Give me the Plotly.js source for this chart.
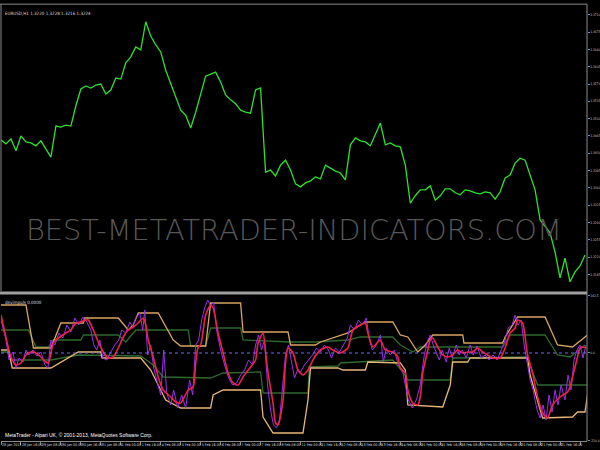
<!DOCTYPE html>
<html><head><meta charset="utf-8">
<script src="https://cdn.plot.ly/plotly-3.0.1.min.js"></script>
<style>html,body{margin:0;padding:0;background:#000;} #chart{width:600px;height:450px;}</style>
</head><body><div id="chart"></div>
<script>
// ---- data ----
const timeLabels = ["28 Jan 2013","28 Jan 16:00","29 Jan 08:00","30 Jan 00:00","30 Jan 16:00","31 Jan 08:00","1 Feb 00:00","1 Feb 16:00","4 Feb 08:00","5 Feb 00:00",
  "5 Feb 16:00","6 Feb 08:00","7 Feb 00:00","7 Feb 16:00","8 Feb 08:00","11 Feb 00:00","11 Feb 16:00","12 Feb 08:00","13 Feb 00:00","13 Feb 16:00",
  "14 Feb 08:00","15 Feb 00:00","15 Feb 16:00","18 Feb 08:00","19 Feb 00:00","19 Feb 16:00","20 Feb 08:00","21 Feb 00:00","21 Feb 16:00","22 Feb 08:00"];
const barsPerLabel = 16;
const barsPerSample = 4;

const closePrices = [1.3457,1.3449,1.3459,1.3435,1.3465,1.3453,1.3451,1.3445,1.3455,1.3439,
1.3422,1.3485,1.3483,1.3487,1.3485,1.3526,1.3560,1.3566,1.3562,1.3568,
1.3570,1.3550,1.3558,1.3582,1.3580,1.3613,1.3625,1.3645,1.3639,1.3696,
1.3667,1.3649,1.3635,1.3598,1.3572,1.3542,1.3517,1.3507,1.3481,1.3513,
1.3548,1.3586,1.3590,1.3594,1.3574,1.3548,1.3538,1.3530,1.3517,1.3513,
1.3511,1.3558,1.3562,1.3392,1.3396,1.3384,1.3406,1.3416,1.3396,1.3368,
1.3362,1.3370,1.3374,1.3382,1.3378,1.3406,1.3400,1.3394,1.3390,1.3376,
1.3447,1.3461,1.3455,1.3453,1.3445,1.3467,1.3491,1.3447,1.3451,1.3445,
1.3443,1.3406,1.3329,1.3344,1.3356,1.3356,1.3364,1.3335,1.3344,1.3358,
1.3358,1.3350,1.3346,1.3356,1.3354,1.3350,1.3348,1.3352,1.3350,1.3337,
1.3352,1.3380,1.3386,1.3410,1.3420,1.3416,1.3386,1.3356,1.3295,1.3281,
1.3269,1.3230,1.3178,1.3218,1.3170,1.3190,1.3202,1.3224];

const priceTicks = [1.3710,1.3675,1.3640,1.3605,1.3570,1.3535,1.3500,1.3465,1.3430,1.3395,1.3360,1.3325,1.3290,1.3255,1.3220,1.3185,1.3150];
const indTicks = [142.5, 0, -220];
const indTickText = ["142.5","0.0","-220.0"];

const upperBandBar = [0,20,26,40,48,66,67,94,102,106,110,126,138,144,164,168,192,194,230,232,252,256,278,292,314,320,326,334,340,346,370,371,402,404,414,436,446,458,468,470];
const upperBandVal = [120,120,12.5,12.5,75,75,87.5,87.5,57.5,70,100,100,32.5,17.5,17.5,125,125,52.5,52.5,20,20,27.5,50,77.5,77.5,45,40,2.5,20,45,45,25,25,40,90,90,20,15,40,45];

const lowerBandBar = [0,6,9,40,62,80,81,112,120,132,144,168,170,178,208,210,218,242,246,248,270,274,292,294,320,324,326,354,360,362,374,376,422,424,434,458,462,468,470];
const lowerBandVal = [7.5,7.5,-37.5,-37.5,2.5,2.5,-12.5,-12.5,-42.5,-117.5,-137.5,-137.5,-105,-92.5,-92.5,-160,-200,-200,-117.5,-37.5,-37.5,-42.5,-42.5,-22.5,-25,-42.5,-130,-135,-80,-22.5,-22.5,-12.5,-12.5,-55,-162.5,-160,-147.5,-147.5,-105];

const greenUpBar = [0,22,28,38,42,64,66,94,100,108,150,152,164,168,192,194,232,252,278,288,314,320,330,336,402,408,436,446,456,468];
const greenUpVal = [57.5,57.5,15,15,32.5,32.5,45,45,27.5,57.5,57.5,17.5,17.5,62.5,62.5,32.5,27.5,27.5,32.5,40,40,20,2.5,15,15,45,45,-5,-10,20];

const greenLowBar = [0,6,9,40,62,112,122,130,168,178,208,210,246,247,270,272,314,322,326,360,362,422,426,430,470];
const greenLowVal = [2.5,2.5,-17.5,-17.5,-5,-7.5,-30,-60,-62.5,-50,-47.5,-100,-100,-35,-32.5,-25,-17.5,-47.5,-67.5,-67.5,-12.5,-10,-47.5,-80,-80];

const redBar = [0,8,12,16,20,24,28,32,36,38,42,46,52,56,60,64,68,70,74,78,82,86,90,94,98,102,106,110,114,116,118,122,126,130,136,140,144,150,154,156,158,160,164,168,170,174,178,182,186,190,194,200,204,206,210,212,214,218,220,222,226,228,230,234,238,242,246,250,256,262,266,272,278,282,288,292,294,298,304,308,314,318,320,324,326,330,334,336,338,342,344,346,350,354,358,362,366,370,374,378,382,386,390,394,400,404,408,412,414,418,420,422,426,430,434,438,442,448,454,456,458,462,464,466,469];
const redVal = [95,-10,-30,-25,-5,2.5,0,-10,-22.5,-25,25,37.5,50,57.5,75,77.5,82.5,82.5,57.5,27.5,2.5,-12.5,-10,12.5,40,57.5,65,75,87.5,70,32.5,-10,-60,-92.5,-110,-122.5,-125,-92.5,-85,-25,15,20,95,120,112.5,50,0,-50,-75,-80,-60,-35,-17.5,25,50,2.5,-50,-125,-175,-180,-117.5,-25,12.5,0,-42.5,-55,-42.5,-17.5,7.5,15,7.5,0,12.5,57.5,70,75,50,15,32.5,7.5,2.5,-10,-37.5,-50,-92.5,-125,-130,-110,-50,7.5,32.5,37.5,15,-5,-10,-5,7.5,0,2.5,2.5,12.5,2.5,-5,-12.5,-12.5,12.5,50,62.5,82.5,75,40,-5,-50,-110,-150,-162.5,-130,-110,-97.5,-85,-60,-10,12.5,15,12.5];

const purpleBar = [0,4,6.4,9.6,12,14.4,17.6,20,22.4,25.6,28.8,32,35.2,37.6,40,43.2,46.4,49.6,52.8,56,59.2,62.4,65.6,68.8,72,74.4,76.8,79.2,81.6,84.8,88,91.2,94.4,96.8,100,103.2,105.6,108,111.2,113.6,115.2,117.6,120,122.4,124.8,128,130.4,132.8,136,138.4,141.6,144.8,148,151.2,153.6,156,158.4,160.8,163.2,165.6,168,170.4,172.8,176,179.2,182.4,185.6,188.8,192,195.2,198.4,201.6,204,206.4,208.8,211.2,213.6,216,218.4,220.8,223.2,225.6,228,230.4,232.8,235.2,237.6,240,243.2,246.4,249.6,252.8,256,259.2,262.4,264.8,268,271.2,274.4,277.6,280,283.2,286.4,289.6,292.8,295.2,297.6,300.8,304,306.4,308.8,312,315.2,318.4,321.6,324,326.4,329.6,332.8,336,339.2,341.6,344,346.4,348.8,351.2,353.6,356.8,359.2,361.6,364.8,367.2,369.6,372.8,376,378.4,381.6,384.8,388,391.2,394.4,397.6,400.8,404,406.4,409.6,412,414.4,416.8,419.2,421.6,424,426.4,429.6,432,434.4,436.8,439.2,441.6,444,446.4,448.8,452,454.4,456.8,459.2,461.6,464,466.4,468.8];
const purpleVal = [82.5,32.5,-17.5,2.5,-37.5,-12.5,-22.5,7.5,-5,7.5,-7.5,2.5,-30,-37.5,32.5,20,50,37.5,70,52.5,87.5,70,90,77.5,57.5,20,7.5,32.5,-12.5,-17.5,2.5,20,32.5,57.5,50,77.5,65,87.5,100,57.5,107.5,-5,20,-37.5,-67.5,-105,7.5,-100,-130,-92.5,-137.5,-105,-137.5,-67.5,-105,20,32.5,82.5,112.5,132.5,117.5,127.5,57.5,7.5,-30,-62.5,-80,-75,-55,-42.5,-17.5,-30,20,45,7.5,32.5,-80,-142.5,-180,-187.5,-167.5,-80,-5,20,-17.5,-62.5,-42.5,-47.5,-30,-17.5,-5,12.5,2.5,20,7.5,-12.5,12.5,2.5,20,37.5,70,57.5,82.5,70,87.5,32.5,7.5,20,45,-22.5,12.5,-5,7.5,-30,-42.5,-80,-117.5,-137.5,-117.5,-80,-5,27.5,45,20,2.5,-17.5,7.5,-22.5,12.5,-12.5,20,-5,7.5,-12.5,20,-5,17.5,-12.5,-5,-17.5,-5,-17.5,7.5,32.5,62.5,70,95,70,82.5,20,-22.5,-67.5,-92.5,-142.5,-162.5,-130,-167.5,-105,-147.5,-92.5,-130,-80,-117.5,-55,-92.5,-17.5,7.5,20,-12.5,20];

// ---- build ----
const priceX = closePrices.map((_, i) => i * barsPerSample);
const labelVals = timeLabels.map((_, i) => i * barsPerLabel);
const xMax = 469.6;
const gray = '#8a8a8a';
const tinyFont = 'Liberation Sans Narrow, DejaVu Sans Condensed, Liberation Sans, sans-serif';

const traces = [
  {x: priceX, y: closePrices, type: 'scatter', mode: 'lines', xaxis: 'x', yaxis: 'y', line: {color: '#2fe02f', width: 1.3}, hoverinfo: 'skip'},
  {x: greenLowBar, y: greenLowVal, type: 'scatter', mode: 'lines', xaxis: 'x', yaxis: 'y2', line: {color: '#2e6a2e', width: 1.3}},
  {x: greenUpBar, y: greenUpVal, type: 'scatter', mode: 'lines', xaxis: 'x', yaxis: 'y2', line: {color: '#2e6a2e', width: 1.3}},
  {x: upperBandBar, y: upperBandVal, type: 'scatter', mode: 'lines', xaxis: 'x', yaxis: 'y2', line: {color: '#d9a464', width: 1.3}},
  {x: lowerBandBar, y: lowerBandVal, type: 'scatter', mode: 'lines', xaxis: 'x', yaxis: 'y2', line: {color: '#e8b878', width: 1.3}},
  {x: purpleBar, y: purpleVal, type: 'scatter', mode: 'lines', xaxis: 'x', yaxis: 'y2', line: {color: '#9a30e8', width: 1}},
  {x: redBar, y: redVal, type: 'scatter', mode: 'lines', xaxis: 'x', yaxis: 'y2', line: {color: '#f0204e', width: 1.6, shape: 'spline', smoothing: 0.6}}
];

const layout = {
  width: 600, height: 450,
  margin: {l: 1, r: 13, t: 5, b: 9, pad: 0},
  paper_bgcolor: '#000', plot_bgcolor: '#000',
  showlegend: false,
  xaxis: {
    range: [0, xMax], anchor: 'y2', showgrid: false, zeroline: false,
    tickvals: labelVals, ticktext: timeLabels, ticks: 'outside', ticklen: 3, tickcolor: gray,
    ticklabelposition: 'outside right',
    showline: true, linecolor: gray, linewidth: 1,
    tickfont: {family: tinyFont, size: 3.6, color: '#dddddd'}, tickangle: 0
  },
  yaxis: {
    domain: [0.344, 1], range: [1.31513, 1.37299], side: 'right', anchor: 'x',
    showgrid: false, zeroline: false, tickvals: priceTicks, ticktext: priceTicks.map(v => v.toFixed(4)),
    ticks: 'outside', ticklen: 1.5, tickcolor: gray, ticklabelstandoff: 0,
    tickfont: {family: tinyFont, size: 3.3, color: '#cccccc'}
  },
  yaxis2: {
    domain: [0, 0.3326], range: [-220, 142.5], side: 'right', anchor: 'x',
    showgrid: false, zeroline: false, tickvals: indTicks, ticktext: indTickText,
    ticks: 'outside', ticklen: 1.5, tickcolor: gray, ticklabelstandoff: 0,
    tickfont: {family: tinyFont, size: 3.3, color: '#cccccc'}
  },
  shapes: [
    {type: 'line', xref: 'paper', yref: 'paper', x0: -0.002, x1: 1, y0: 1.002, y1: 1.002, line: {color: gray, width: 1}},
    {type: 'line', xref: 'paper', yref: 'paper', x0: 1, x1: 1, y0: 0, y1: 1.002, line: {color: gray, width: 1}},
    {type: 'line', xref: 'paper', yref: 'paper', x0: 0, x1: 0, y0: 0.344, y1: 1.002, line: {color: gray, width: 1}},
    {type: 'line', xref: 'paper', yref: 'paper', x0: -0.002, x1: 1, y0: 0.3394, y1: 0.3394, line: {color: '#a0a0a0', width: 3}},
    {type: 'line', xref: 'paper', yref: 'y2', x0: 0, x1: 1, y0: 0, y1: 0, line: {color: '#6a6aff', width: 1, dash: 'dot'}}
  ],
  annotations: [
    {text: 'BEST-METATRADER-INDICATORS.COM', xref: 'paper', yref: 'paper', x: 0.5, y: 0.484, showarrow: false,
     xanchor: 'center', yanchor: 'middle', font: {family: 'DejaVu Sans', size: 28.8, color: '#585858', weight: 200}},
    {text: 'EURUSD,H1 1.3220 1.3228 1.3216 1.3224', xref: 'paper', yref: 'paper', x: 0.004, y: 0.99, showarrow: false,
     xanchor: 'left', yanchor: 'top', font: {family: tinyFont, size: 4.5, color: '#dddddd'}},
    {text: 'devimpuls 0.0000', xref: 'paper', yref: 'paper', x: 0.004, y: 0.328, showarrow: false,
     xanchor: 'left', yanchor: 'top', font: {family: tinyFont, size: 4.5, color: '#dddddd'}},
    {text: 'MetaTrader - Alpari UK, © 2001-2013, MetaQuotes Software Corp.', xref: 'paper', yref: 'paper', x: 0.004, y: 0.002, showarrow: false,
     xanchor: 'left', yanchor: 'bottom', font: {family: 'Liberation Sans, sans-serif', size: 5, color: '#ffffff'}}
  ]
};

Plotly.newPlot('chart', traces, layout, {staticPlot: true, displayModeBar: false});
</script>
</body></html>
